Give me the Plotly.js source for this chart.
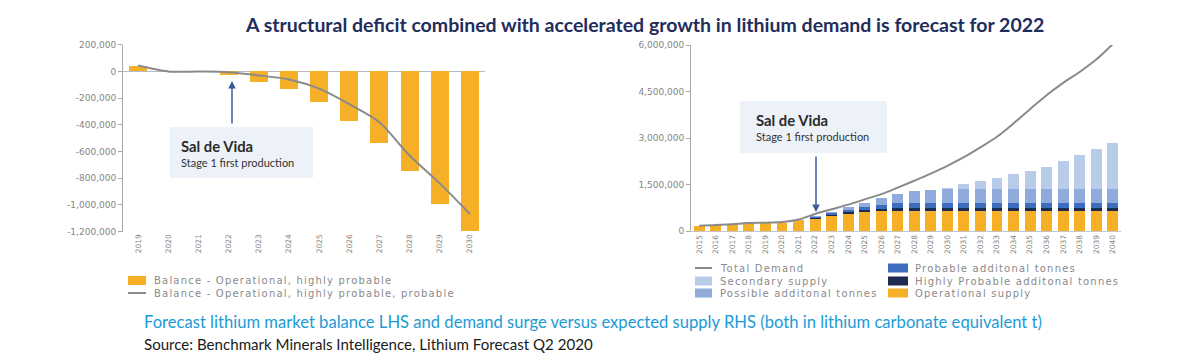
<!DOCTYPE html>
<html>
<head>
<meta charset="utf-8">
<script src="https://cdn.plot.ly/plotly-3.0.1.min.js"></script>
<style>
  html, body { margin: 0; padding: 0; background: #ffffff; }
  #chart { width: 1200px; height: 363px; }
</style>
</head>
<body>
<div id="chart"></div>
<script>
// ---------- DATA ----------
var leftYears = ['2019','2020','2021','2022','2023','2024','2025','2026','2027','2028','2029','2030'];
var balanceOpHighlyProbable = [37000, 0, -3000, -25000, -79000, -128000, -226000, -369000, -536000, -744000, -992000, -1198000];
var balanceOpHighlyProbableProbable = [44000, 0, -1000, -6000, -30000, -60000, -129000, -245000, -380000, -630000, -838000, -1067000];
var leftTickVals = [200000, 0, -200000, -400000, -600000, -800000, -1000000, -1200000];
var leftTickText = ['200,000', '0', '-200,000', '-400,000', '-600,000', '-800,000', '-1,000,000', '-1,200,000'];
var leftNames = ['Balance - Operational, highly probable', 'Balance - Operational, highly probable, probable'];

var rightYears = ['2015','2016','2017','2018','2019','2020','2021','2022','2023','2024','2025','2026','2027',
                  '2028','2029','2030','2031','2032','2033','2034','2035','2036','2037','2038','2039','2040'];
var operationalSupply = [165000, 195000, 220000, 235000, 255000, 255000, 360000, 390000, 470000, 550000, 610000, 630000, 640000,
                         640000, 640000, 640000, 640000, 640000, 640000, 640000, 640000, 640000, 640000, 640000, 640000, 640000];
var highlyProbableTonnes = [0, 0, 0, 0, 0, 0, 0, 30000, 50000, 70000, 80000, 90000, 100000,
                            100000, 100000, 100000, 100000, 100000, 100000, 100000, 100000, 100000, 100000, 100000, 100000, 100000];
var probableTonnes = [0, 0, 0, 0, 0, 0, 0, 40000, 50000, 70000, 100000, 130000, 150000,
                      170000, 170000, 170000, 170000, 170000, 170000, 170000, 170000, 170000, 170000, 170000, 170000, 170000];
var possibleTonnes = [0, 0, 0, 0, 0, 0, 0, 40000, 50000, 80000, 120000, 200000, 300000,
                      380000, 400000, 430000, 430000, 430000, 430000, 430000, 430000, 430000, 430000, 430000, 430000, 430000];
var secondarySupply = [0, 0, 0, 40000, 0, 0, 0, 0, 0, 0, 0, 0, 0,
                       0, 0, 60000, 180000, 280000, 380000, 500000, 610000, 710000, 910000, 1110000, 1290000, 1490000];
var totalDemand = [170000, 190000, 220000, 260000, 270000, 290000, 370000, 550000, 700000, 850000, 1020000, 1190000, 1400000,
                   1620000, 1850000, 2100000, 2380000, 2700000, 3040000, 3470000, 3930000, 4380000, 4780000, 5130000, 5530000, 6030000];
var rightTickVals = [0, 1500000, 3000000, 4500000, 6000000];
var rightTickText = ['0', '1,500,000', '3,000,000', '4,500,000', '6,000,000'];
var rightNames = ['Total Demand', 'Secondary supply', 'Possible additonal tonnes',
                  'Probable additonal tonnes', 'Highly Probable additonal tonnes', 'Operational supply'];

// ---------- STYLE ----------
var W = 1200, H = 363;
function px(x) { return x / W; }
function py(y) { return 1 - y / H; }

var C = {
  orange: '#f5b027',
  hp: '#1c2b4f',
  prob: '#3e6dc0',
  poss: '#8eabdc',
  sec: '#b8cbe8',
  line: '#8a8a8a',
  axis: '#a9a9a9',
  tick: '#858585',
  legend: '#8a8a8a',
  box: '#edf2f8',
  arrow: '#3b5a9c'
};
var tickFont = { family: 'DejaVu Sans', size: 9, color: C.tick };
var xTickFont = { family: 'DejaVu Sans', size: 7.5, color: C.tick };

var traces = [
  { type: 'bar', x: leftYears, y: balanceOpHighlyProbable, name: leftNames[0],
    marker: { color: C.orange }, width: 0.6, xaxis: 'x', yaxis: 'y', showlegend: false },
  { type: 'scatter', mode: 'lines', x: leftYears, y: balanceOpHighlyProbableProbable, name: leftNames[1],
    line: { color: C.line, width: 2, shape: 'spline', smoothing: 0.8 }, xaxis: 'x', yaxis: 'y', showlegend: false },

  { type: 'bar', x: rightYears, y: operationalSupply, name: rightNames[5],
    marker: { color: C.orange }, width: 0.66, xaxis: 'x2', yaxis: 'y2', showlegend: false },
  { type: 'bar', x: rightYears, y: highlyProbableTonnes, name: rightNames[4],
    marker: { color: C.hp }, width: 0.66, xaxis: 'x2', yaxis: 'y2', showlegend: false },
  { type: 'bar', x: rightYears, y: probableTonnes, name: rightNames[3],
    marker: { color: C.prob }, width: 0.66, xaxis: 'x2', yaxis: 'y2', showlegend: false },
  { type: 'bar', x: rightYears, y: possibleTonnes, name: rightNames[2],
    marker: { color: C.poss }, width: 0.66, xaxis: 'x2', yaxis: 'y2', showlegend: false },
  { type: 'bar', x: rightYears, y: secondarySupply, name: rightNames[1],
    marker: { color: C.sec }, width: 0.66, xaxis: 'x2', yaxis: 'y2', showlegend: false },
  { type: 'scatter', mode: 'lines', x: rightYears, y: totalDemand, name: rightNames[0],
    line: { color: C.line, width: 2, shape: 'spline', smoothing: 1 }, xaxis: 'x2', yaxis: 'y2', showlegend: false }
];

var shapes = [];
var annotations = [];
var spaced = [];

function ann(o) { annotations.push(Object.assign({ xref: 'paper', yref: 'paper', showarrow: false }, o)); return annotations.length - 1; }
function rect(x0, y0, x1, y1, color) {
  shapes.push({ type: 'rect', xref: 'paper', yref: 'paper', x0: px(x0), x1: px(x1), y0: py(y1), y1: py(y0),
    fillcolor: color, line: { width: 0 }, layer: 'below' });
}
function hline(x0, x1, y, color) {
  shapes.push({ type: 'line', xref: 'paper', yref: 'paper', x0: px(x0), x1: px(x1), y0: py(y), y1: py(y),
    line: { color: color, width: 2 } });
}

// Title, subtitle, source
ann({ x: px(644), y: py(24), xanchor: 'center', yanchor: 'middle',
  text: '<b>A structural deficit combined with accelerated growth in lithium demand is forecast for 2022</b>',
  font: { family: 'Lato', size: 19.5, color: '#1f2d5c' } });
ann({ x: px(142), y: py(322), xanchor: 'left', yanchor: 'middle',
  text: 'Forecast lithium market balance LHS and demand surge versus expected supply RHS (both in lithium carbonate equivalent t)',
  font: { family: 'Lato', size: 16.6, color: '#1b9ad6' } });
ann({ x: px(142), y: py(344), xanchor: 'left', yanchor: 'middle',
  text: 'Source: Benchmark Minerals Intelligence, Lithium Forecast Q2 2020',
  font: { family: 'Lato', size: 15.1, color: '#1a1a1a' } });

// Sal de Vida boxes
rect(170, 127, 313, 178, C.box);
ann({ x: px(179), y: py(146), xanchor: 'left', yanchor: 'middle', text: '<b>Sal de Vida</b>',
  font: { family: 'Lato', size: 14.8, color: '#2a2a2a' } });
ann({ x: px(179), y: py(162), xanchor: 'left', yanchor: 'middle', text: 'Stage 1 first production',
  font: { family: 'Lato', size: 11, color: '#333333' } });
ann({ x: px(232), y: py(81), ax: 0, ay: 44, showarrow: true, text: '',
  arrowhead: 2, arrowsize: 1, arrowwidth: 1.5, arrowcolor: C.arrow });

rect(740, 101, 887, 153, C.box);
ann({ x: px(754), y: py(120), xanchor: 'left', yanchor: 'middle', text: '<b>Sal de Vida</b>',
  font: { family: 'Lato', size: 14.8, color: '#2a2a2a' } });
ann({ x: px(754), y: py(137), xanchor: 'left', yanchor: 'middle', text: 'Stage 1 first production',
  font: { family: 'Lato', size: 11, color: '#333333' } });
ann({ x: px(816), y: py(212), ax: 0, ay: -57, showarrow: true, text: '',
  arrowhead: 2, arrowsize: 1, arrowwidth: 1.5, arrowcolor: C.arrow });

// Left legend
var legFont = { family: 'DejaVu Sans', size: 10, color: C.legend };
rect(128, 276, 146, 285, C.orange);
hline(128, 146, 293, C.line);
spaced.push(ann({ x: px(152), y: py(280.5), xanchor: 'left', yanchor: 'middle', align: 'left', text: leftNames[0], font: legFont }));
spaced.push(ann({ x: px(152), y: py(293), xanchor: 'left', yanchor: 'middle', align: 'left', text: leftNames[1], font: legFont }));

// Right legend (two columns)
var rows = [268, 281, 293];
hline(695, 712, rows[0], C.line);
rect(695, rows[1] - 4.5, 712, rows[1] + 4.5, C.sec);
rect(695, rows[2] - 4.5, 712, rows[2] + 4.5, C.poss);
rect(888, rows[0] - 4.5, 908, rows[0] + 4.5, C.prob);
rect(888, rows[1] - 4.5, 908, rows[1] + 4.5, C.hp);
rect(888, rows[2] - 4.5, 908, rows[2] + 4.5, C.orange);
for (var i = 0; i < 3; i++) {
  spaced.push(ann({ x: px(718), y: py(rows[i]), xanchor: 'left', yanchor: 'middle', align: 'left', text: rightNames[i], font: legFont }));
  spaced.push(ann({ x: px(913), y: py(rows[i]), xanchor: 'left', yanchor: 'middle', align: 'left', text: rightNames[i + 3], font: legFont }));
}

// letter spacing for the wide legend font
var css = spaced.map(function (k) { return 'g.annotation[data-index="' + k + '"] text'; }).join(',') + '{letter-spacing:1.2px;}';
var st = document.createElement('style'); st.textContent = css; document.head.appendChild(st);

var layout = {
  width: W, height: H,
  margin: { l: 0, r: 0, t: 0, b: 0, pad: 0 },
  paper_bgcolor: '#ffffff', plot_bgcolor: 'rgba(0,0,0,0)',
  barmode: 'stack',
  showlegend: false,
  hovermode: false,
  xaxis: {
    domain: [px(123), px(485)], anchor: 'y', type: 'category', range: [-0.5, 11.5],
    showgrid: false, zeroline: false, showline: false, ticks: '', tickangle: -90,
    tickfont: xTickFont, automargin: false, fixedrange: true
  },
  yaxis: {
    domain: [py(231.7), py(44.7)], anchor: 'x', range: [-1200000, 200000],
    tickvals: leftTickVals, ticktext: leftTickText, tickfont: tickFont,
    showgrid: false, zeroline: true, zerolinecolor: '#b3bccb', zerolinewidth: 1,
    showline: true, linecolor: C.axis, linewidth: 1, ticks: 'outside', ticklen: 4, tickcolor: C.axis,
    automargin: false, fixedrange: true
  },
  xaxis2: {
    domain: [px(691), px(1121)], anchor: 'y2', type: 'category', range: [-0.5, 25.5],
    showgrid: false, zeroline: false, showline: true, linecolor: '#c4c4c4', linewidth: 1, ticks: '', tickangle: -90,
    tickfont: xTickFont, automargin: false, fixedrange: true
  },
  yaxis2: {
    domain: [py(231), py(45)], anchor: 'x2', range: [0, 6000000],
    tickvals: rightTickVals, ticktext: rightTickText, tickfont: tickFont,
    showgrid: false, zeroline: false,
    showline: true, linecolor: C.axis, linewidth: 1, ticks: 'outside', ticklen: 4, tickcolor: C.axis,
    automargin: false, fixedrange: true
  },
  shapes: shapes,
  annotations: annotations
};

Plotly.newPlot('chart', traces, layout, { staticPlot: true, displayModeBar: false });
</script>
</body>
</html>
